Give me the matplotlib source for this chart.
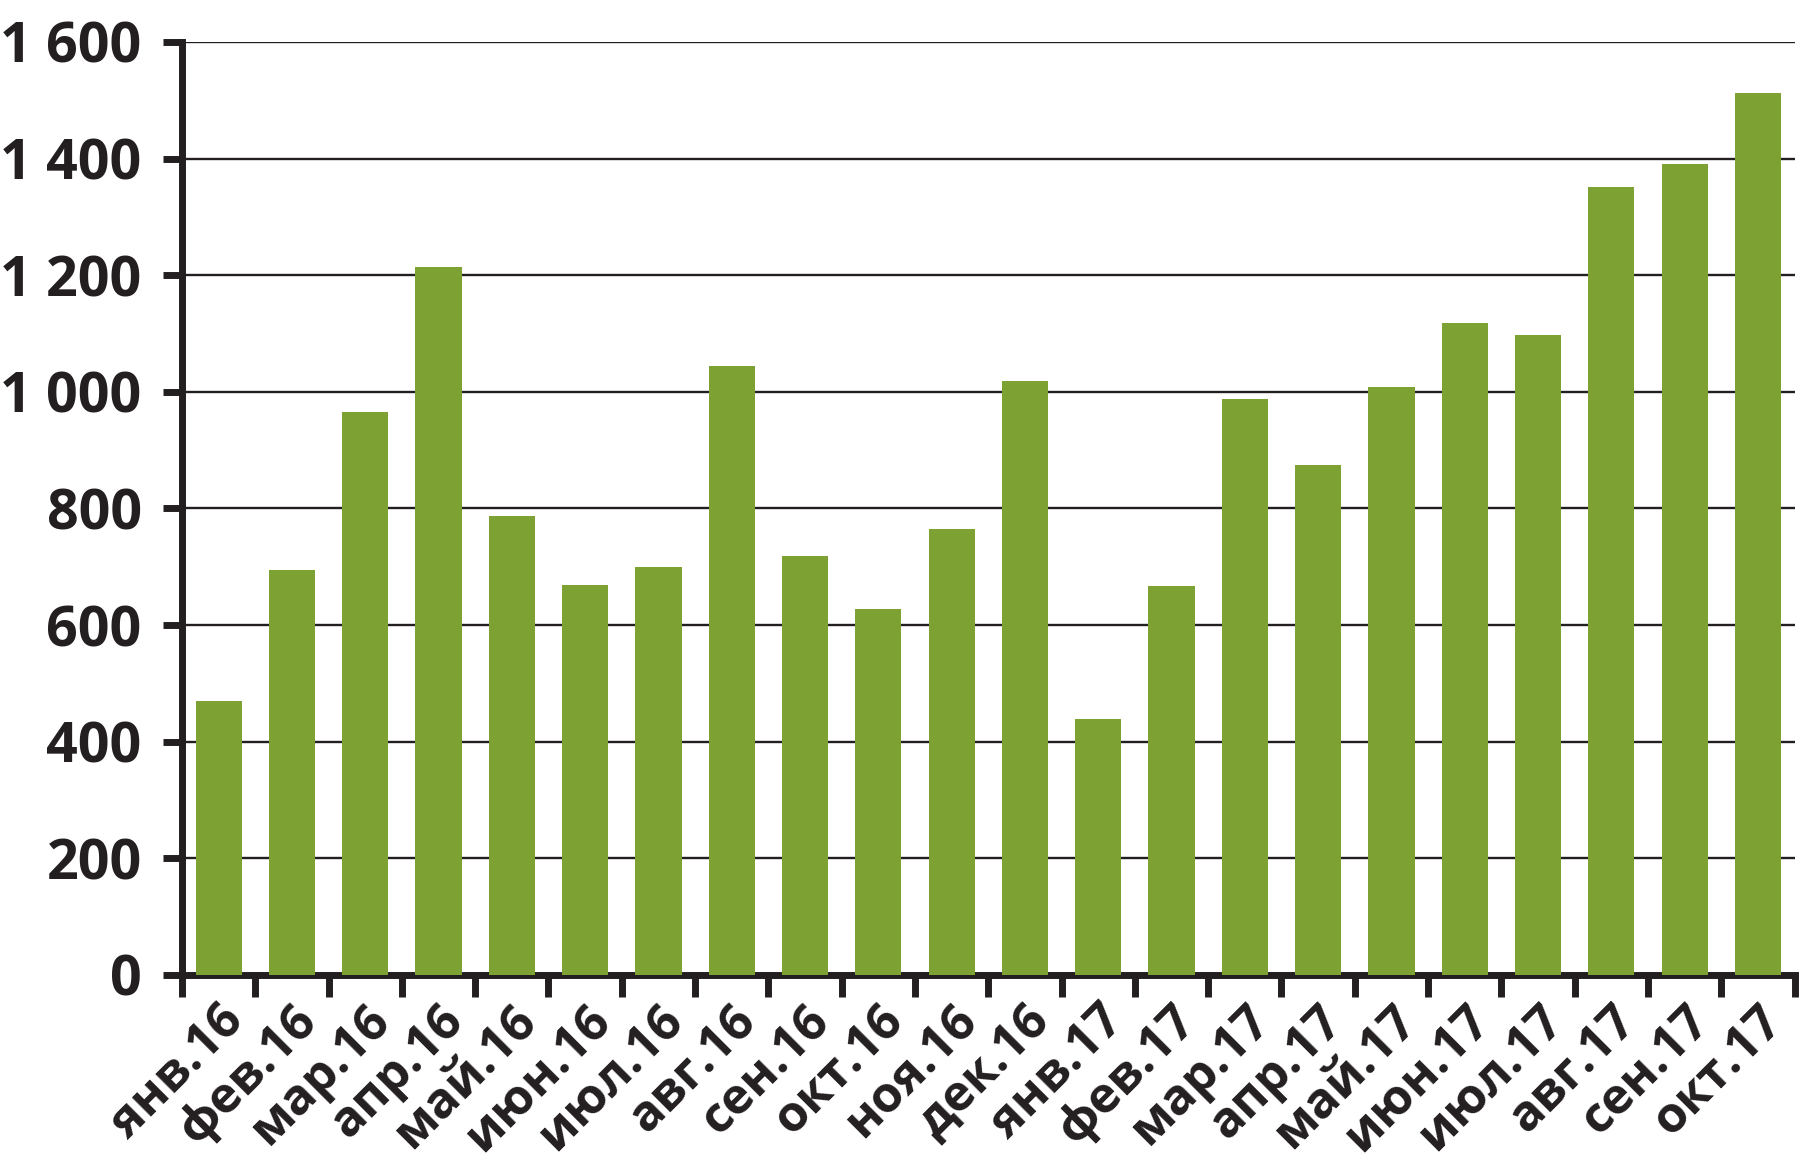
import matplotlib
matplotlib.use("Agg")
import matplotlib.pyplot as plt
import numpy as np

categories = ["янв.16", "фев.16", "мар.16", "апр.16", "май.16", "июн.16", "июл.16",
              "авг.16", "сен.16", "окт.16", "ноя.16", "дек.16", "янв.17", "фев.17",
              "мар.17", "апр.17", "май.17", "июн.17", "июл.17", "авг.17", "сен.17", "окт.17"]
values = [470, 695, 966, 1214, 787, 669, 699, 1045, 718, 628, 764, 1019,
          439, 667, 988, 874, 1008, 1118, 1098, 1351, 1391, 1513]
y_ticks = [0, 200, 400, 600, 800, 1000, 1200, 1400, 1600]
y_tick_labels = ["0", "200", "400", "600", "800", "1 000", "1 200", "1 400", "1 600"]

dark = "#231f20"
green = "#7ea133"

plt.rcParams['font.family'] = ['Open Sans', 'DejaVu Sans']

fig = plt.figure(figsize=(18, 11.63), dpi=100)
ax = fig.add_axes([0.1011, 0.1617, 0.8959, 0.8022])

x = np.arange(len(categories))
ax.set_axisbelow(True)
ax.yaxis.grid(True, color=dark, linewidth=1.7)
ax.bar(x, values, width=0.63, color=green, zorder=3)

ax.set_xlim(-0.5, len(categories) - 0.5)
ax.set_ylim(0, 1600)

ax.set_yticks(y_ticks)
ax.set_yticklabels(y_tick_labels, fontsize=40, fontweight='bold', color=dark)

ax.set_xticks(np.arange(len(categories) + 1) - 0.5)
ax.set_xticklabels([""] * (len(categories) + 1))
ax.set_xticks(x, minor=True)
ax.set_xticklabels(categories, minor=True, rotation=45, ha='right', va='top',
                   rotation_mode='anchor', fontsize=36, fontweight='bold', color=dark)

ax.tick_params(axis='y', which='major', direction='out', length=14, width=5, color=dark, pad=15)
ax.tick_params(axis='x', which='major', direction='out', length=16, width=5, color=dark)
ax.tick_params(axis='x', which='minor', length=0, pad=15)

for s in ['top', 'right']:
    ax.spines[s].set_visible(False)
for s in ['left', 'bottom']:
    ax.spines[s].set_linewidth(5)
    ax.spines[s].set_color(dark)

fig.savefig("out.png", dpi=100, facecolor="white")
